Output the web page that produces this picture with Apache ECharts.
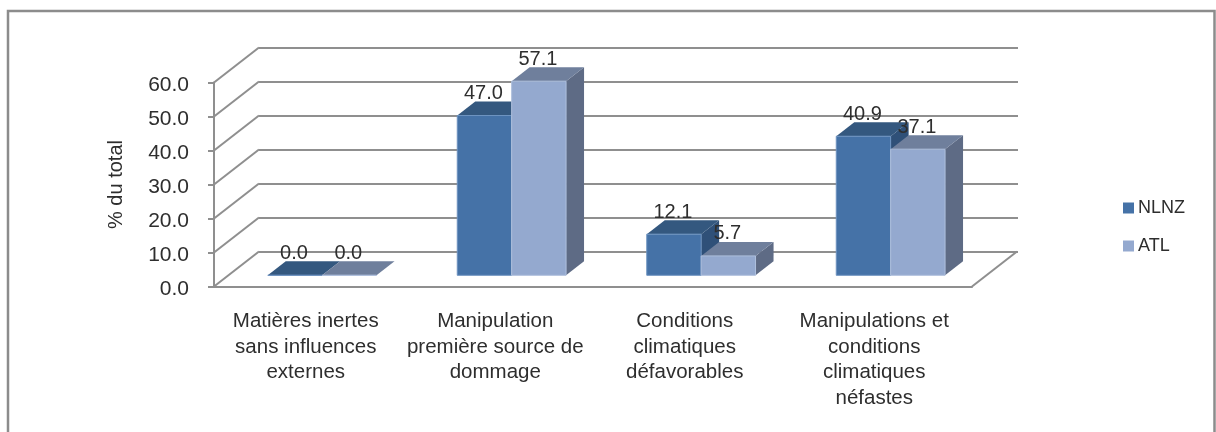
<!DOCTYPE html>
<html>
<head>
<meta charset="utf-8">
<style>
  html, body { margin: 0; padding: 0; background: #fff; }
  #chart { width: 1216px; height: 432px; }
</style>
<script src="https://cdn.jsdelivr.net/npm/echarts@6/dist/echarts.min.js"></script>
</head>
<body>
<div id="chart"></div>
<script>
const categories = [
  'Matières inertes\nsans influences\nexternes',
  'Manipulation\npremière source de\ndommage',
  'Conditions\nclimatiques\ndéfavorables',
  'Manipulations et\nconditions\nclimatiques\nnéfastes'
]
const nlnz = [0.0, 47.0, 12.1, 40.9]
const atl = [0.0, 57.1, 5.7, 37.1]
const yTicks = [0, 10, 20, 30, 40, 50, 60]

// fake 3D: the floor runs back along this pixel vector
const DEPTH_X = 45
const DEPTH_Y = -35
const BAR_NEAR = 0.32 // front of the bars, as a share of the floor depth
const BAR_FAR = 0.72 // back of the bars
const BAR_SHARE = 0.287 // bar width, as a share of the category band
const FONT = '"Liberation Sans", Arial, sans-serif'
const TEXT_COLOR = '#2e2e2e'

// one bar: front, top and side faces
function bar3d (side, colors) {
  return function (params, api) {
    const idx = api.value(0)
    const val = api.value(1)
    const barW = api.size([1, 0])[0] * BAR_SHARE
    const base = api.coord([idx, 0])
    const top = api.coord([idx, val])
    const nx = DEPTH_X * BAR_NEAR - 1
    const ny = DEPTH_Y * BAR_NEAR
    const dx = DEPTH_X * (BAR_FAR - BAR_NEAR)
    const dy = DEPTH_Y * (BAR_FAR - BAR_NEAR)
    const x0 = base[0] + nx + (side < 0 ? -barW : 0)
    const x1 = x0 + barW
    const yB = base[1] + ny
    const yT = top[1] + ny
    return {
      type: 'group',
      children: [
        {
          type: 'polygon',
          shape: { points: [[x1, yB], [x1 + dx, yB + dy], [x1 + dx, yT + dy], [x1, yT]] },
          style: { fill: colors.side }
        },
        {
          type: 'polygon',
          shape: { points: [[x0, yT], [x0 + dx, yT + dy], [x1 + dx, yT + dy], [x1, yT]] },
          style: { fill: colors.top }
        },
        {
          type: 'rect',
          shape: { x: x0, y: yT, width: barW, height: yB - yT },
          style: { fill: api.visual('color'), stroke: colors.edge, lineWidth: 1 }
        }
      ]
    }
  }
}

// value labels go in their own series so no bar paints over them
function valueLabel (side) {
  return function (params, api) {
    const idx = api.value(0)
    const val = api.value(1)
    const barW = api.size([1, 0])[0] * BAR_SHARE
    const pos = api.coord([idx, val])
    return {
      type: 'text',
      style: {
        x: pos[0] + DEPTH_X * BAR_NEAR + side * barW / 2 - 2,
        y: pos[1] + DEPTH_Y * BAR_NEAR - 22,
        text: val.toFixed(1),
        fill: TEXT_COLOR,
        font: '20px ' + FONT,
        align: 'center',
        verticalAlign: 'middle'
      }
    }
  }
}

function depthLine (start) {
  return {
    type: 'line',
    shape: { x1: start[0], y1: start[1], x2: start[0] + DEPTH_X, y2: start[1] + DEPTH_Y },
    style: { stroke: '#8f8f8f', lineWidth: 2 }
  }
}

// left wall diagonals, one per tick
function wallLines (params, api) {
  const band = api.size([1, 0])[0]
  const p = api.coord([0, api.value(0)])
  return depthLine([p[0] - band / 2, p[1]])
}
// right edge of the floor
function floorRight (params, api) {
  const band = api.size([1, 0])[0]
  const p = api.coord([categories.length - 1, 0])
  return depthLine([p[0] + band / 2, p[1]])
}

const chart = echarts.init(document.getElementById('chart'))
chart.setOption({
  animation: false,
  backgroundColor: '#ffffff',
  textStyle: { fontFamily: FONT },
  graphic: [{
    type: 'rect',
    silent: true,
    shape: { x: 8, y: 11, width: 1206.5, height: 440 },
    style: { fill: 'none', stroke: '#8c8c8c', lineWidth: 2.5 }
  }],
  legend: {
    data: ['NLNZ', 'ATL'],
    orient: 'vertical',
    left: 1118,
    top: 194,
    itemWidth: 11,
    itemHeight: 11,
    itemGap: 20,
    icon: 'rect',
    textStyle: { color: TEXT_COLOR, fontSize: 18, fontFamily: FONT, padding: [0, 0, 0, -1] }
  },
  grid: [
    { left: 214, right: 244, top: 82.5, bottom: 145.5 }, // front plane
    { left: 259, right: 198, top: 47.5, bottom: 180.5 } // back wall
  ],
  xAxis: [
    {
      type: 'category',
      gridIndex: 0,
      data: categories,
      axisLine: { lineStyle: { color: '#8f8f8f', width: 2 } },
      axisTick: { show: false },
      axisLabel: { interval: 0, color: TEXT_COLOR, fontSize: 20.5, lineHeight: 25.7, margin: 22, padding: [0, 6, 0, 0], fontFamily: FONT }
    },
    {
      type: 'category',
      gridIndex: 1,
      data: categories,
      axisLine: { show: false },
      axisTick: { show: false },
      axisLabel: { show: false }
    }
  ],
  yAxis: [
    {
      type: 'value',
      gridIndex: 0,
      min: 0,
      max: 60,
      interval: 10,
      name: '% du total',
      nameLocation: 'middle',
      nameGap: 88,
      nameTextStyle: { color: TEXT_COLOR, fontSize: 20, fontFamily: FONT },
      axisLine: { show: true, lineStyle: { color: '#8f8f8f', width: 2 } },
      axisTick: { show: true, length: 6, lineStyle: { color: '#8f8f8f', width: 2 } },
      axisLabel: {
        margin: 25,
        formatter: v => '{t|' + v.toFixed(1) + '}',
        rich: { t: { color: TEXT_COLOR, fontSize: 21, fontFamily: FONT, padding: [6, 0, 0, 0] } }
      },
      splitLine: { show: false }
    },
    {
      type: 'value',
      gridIndex: 1,
      min: 0,
      max: 60,
      interval: 10,
      axisLine: { show: false },
      axisTick: { show: false },
      axisLabel: { show: false },
      splitLine: { show: true, lineStyle: { color: '#8f8f8f', width: 2 } }
    }
  ],
  series: [
    {
      type: 'custom',
      name: 'walls',
      xAxisIndex: 0,
      yAxisIndex: 0,
      silent: true,
      data: yTicks.map(v => [v]),
      encode: { y: 0 },
      renderItem: wallLines,
      z: 1
    },
    {
      type: 'custom',
      name: 'floor',
      xAxisIndex: 0,
      yAxisIndex: 0,
      silent: true,
      data: [[0]],
      encode: { y: 0 },
      renderItem: floorRight,
      z: 1
    },
    {
      type: 'custom',
      name: 'NLNZ',
      xAxisIndex: 0,
      yAxisIndex: 0,
      itemStyle: { color: '#4572a7' },
      data: nlnz.map((v, i) => [i, v]),
      encode: { x: 0, y: 1 },
      renderItem: bar3d(-1, { top: '#34587f', side: '#2f5078', edge: '#6d93c0' }),
      z: 3
    },
    {
      type: 'custom',
      name: 'ATL',
      xAxisIndex: 0,
      yAxisIndex: 0,
      itemStyle: { color: '#94a9cf' },
      data: atl.map((v, i) => [i, v]),
      encode: { x: 0, y: 1 },
      renderItem: bar3d(1, { top: '#6f7f9c', side: '#5e6b85', edge: '#aebfdd' }),
      z: 4
    },
    {
      type: 'custom',
      name: 'NLNZ values',
      xAxisIndex: 0,
      yAxisIndex: 0,
      silent: true,
      data: nlnz.map((v, i) => [i, v]),
      encode: { x: 0, y: 1 },
      renderItem: valueLabel(-1),
      z: 5
    },
    {
      type: 'custom',
      name: 'ATL values',
      xAxisIndex: 0,
      yAxisIndex: 0,
      silent: true,
      data: atl.map((v, i) => [i, v]),
      encode: { x: 0, y: 1 },
      renderItem: valueLabel(1),
      z: 5
    }
  ]
})
</script>
</body>
</html>
